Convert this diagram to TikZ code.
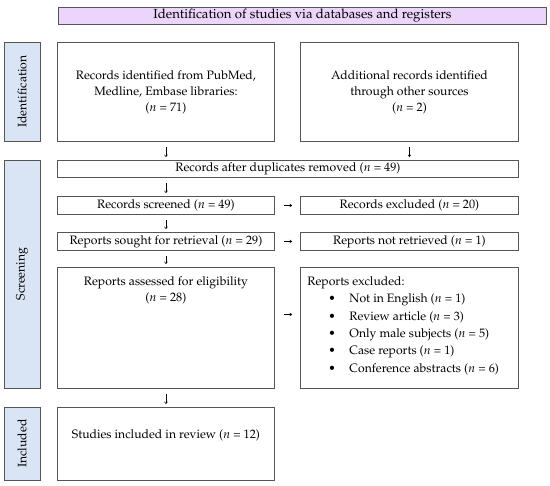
\documentclass[tikz,border=0pt]{standalone}
\usepackage[T1]{fontenc}
\usepackage{mathpazo}
\usetikzlibrary{arrows.meta}

\definecolor{linegray}{RGB}{85,85,85}
\definecolor{titlefill}{RGB}{235,213,250}
\definecolor{sidefill}{RGB}{217,229,245}

\tikzset{
  box/.style={draw=linegray, line width=0.9pt, anchor=north west, inner sep=0pt, align=center},
  sidebox/.style={draw=linegray, line width=0.9pt, fill=sidefill, rotate=90, inner sep=0pt,
    minimum height=36pt},
  flow/.style={line width=0.5pt, -{To[length=2.5pt,width=3.5pt]}}
}

\begin{document}
\begin{tikzpicture}[x=1pt,y=-1pt,font=\fontsize{12.2}{16}\selectfont]
			\useasboundingbox (0,0) rectangle (550,486);
			
			% Title
			\node[box, fill=titlefill, minimum width=488pt, minimum height=17pt,
				font=\fontsize{13.2}{16}\selectfont] (title) at (58,7)
				{Identification of studies via databases and registers};
			
			% Side labels
			\node[sidebox, minimum width=99pt] (sideid) at (22,91.5) {Identification};
			\node[sidebox, minimum width=228pt] (sidescr) at (22,274) {Screening};
			\node[sidebox, minimum width=73pt] (sideinc) at (22,443.5) {Included};
			
			% Identification
			\node[box, minimum width=217pt, minimum height=99pt] (pubmed) at (57,42)
				{Records identified from PubMed,\\ Medline, Embase libraries:\\ ($n$ = 71)};
			\node[box, minimum width=218pt, minimum height=99pt] (other) at (300,42)
				{Additional records identified\\ through other sources\\ ($n$ = 2)};
			
			% Screening
			\node[box, minimum width=461pt, minimum height=17pt] (dup) at (57,160)
				{Records after duplicates removed ($n$ = 49)};
			\node[box, minimum width=217pt, minimum height=18pt] (screened) at (57,196)
				{Records screened ($n$ = 49)};
			\node[box, minimum width=218pt, minimum height=18pt] (excluded) at (300,196)
				{Records excluded ($n$ = 20)};
			\node[box, minimum width=217pt, minimum height=18pt] (sought) at (57,232)
				{Reports sought for retrieval ($n$ = 29)};
			\node[box, minimum width=218pt, minimum height=18pt] (notret) at (300,232)
				{Reports not retrieved ($n$ = 1)};
			\node[box, minimum width=217pt, minimum height=121pt] (assessed) at (57,267)
				{\begin{minipage}[c][121pt][t]{217pt}\centering\vspace{9pt}
				Reports assessed for eligibility\\ ($n$ = 28)\end{minipage}};
			\node[box, minimum width=218pt, minimum height=121pt] (repexcl) at (300,267)
				{\begin{minipage}[c][121pt][t]{218pt}\raggedright\vspace{9pt}
				\hspace*{7pt}Reports excluded:\\[1.4pt]
				\hspace*{28pt}\makebox[21pt][l]{\textbullet}Not in English ($n$ = 1)\\[1.4pt]
				\hspace*{28pt}\makebox[21pt][l]{\textbullet}Review article ($n$ = 3)\\[1.4pt]
				\hspace*{28pt}\makebox[21pt][l]{\textbullet}Only male subjects ($n$ = 5)\\[1.4pt]
				\hspace*{28pt}\makebox[21pt][l]{\textbullet}Case reports ($n$ = 1)\\[1.4pt]
				\hspace*{28pt}\makebox[21pt][l]{\textbullet}Conference abstracts ($n$ = 6)\end{minipage}};
			
			% Included
			\node[box, minimum width=217pt, minimum height=73pt] (included) at (57,407)
				{Studies included in review ($n$ = 12)\\[4pt]};
			
			% Arrows
			% down
			\draw[flow, shorten <=5pt, shorten >=3pt] (pubmed.south) -- (pubmed.south |- dup.north);
			\draw[flow, shorten <=5pt, shorten >=3pt] (other.south) -- (other.south |- dup.north);
			\draw[flow, shorten <=5pt, shorten >=3pt] (screened.north |- dup.south) -- (screened.north);
			\draw[flow, shorten <=5pt, shorten >=3pt] (screened.south) -- (sought.north);
			\draw[flow, shorten <=5pt, shorten >=3pt] (sought.south) -- (assessed.north);
			\draw[flow, shorten <=5pt, shorten >=3pt] (assessed.south) -- (included.north);
			% right
			\draw[flow, shorten <=9pt, shorten >=8pt] (screened.east) -- (excluded.west);
			\draw[flow, shorten <=9pt, shorten >=8pt] (sought.east) -- (notret.west);
			\draw[flow, shorten <=9pt, shorten >=8pt] ([yshift=13.5pt]assessed.east) -- ([yshift=13.5pt]repexcl.west);
			
		\end{tikzpicture}
\end{document}
